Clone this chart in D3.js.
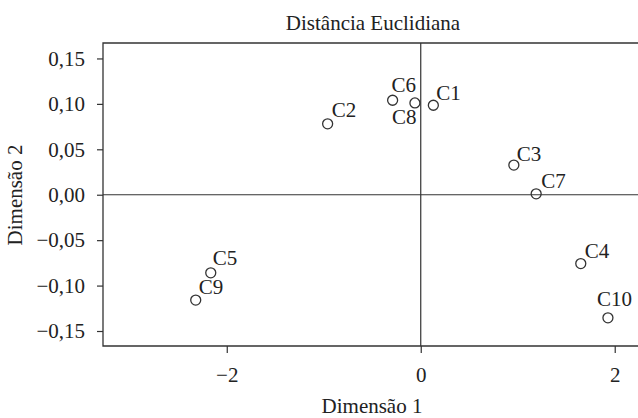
<!DOCTYPE html>
<html><head><meta charset="utf-8">
<script src="https://cdn.jsdelivr.net/npm/d3@7"></script>
<style>body{margin:0;background:#fff}svg{display:block}</style>
</head><body>
<svg id="c" width="638" height="418"></svg>
<script>
const labels = ["C1","C2","C3","C4","C5","C6","C7","C8","C9","C10"];
const dim1 = [0.13,-0.96,0.96,1.65,-2.165,-0.29,1.19,-0.06,-2.32,1.93];
const dim2 = [0.0985,0.078,0.0326,-0.0758,-0.086,0.104,0.001,0.101,-0.116,-0.1355];
const xTicks = [-2,0,2];
const yTicks = [-0.15,-0.10,-0.05,0,0.05,0.10,0.15];
const title = "Distância Euclidiana";
const xTitle = "Dimensão 1";
const yTitle = "Dimensão 2";
// label offsets (dx, dy of text baseline-start relative to point)
const labelOffsets = [[3,-5],[4,-7],[3,-4],[4,-6],[2,-8],[-1,-8],[5,-6],[-23,21],[3,-6],[-11,-12]];

const svg = d3.select("#c");
const L=103, T=43, B=346, R=638;
const x = d3.scaleLinear().domain([-3.276,2.24]).range([L,R]);
const y = d3.scaleLinear().domain([-0.1665,0.167]).range([B,T]);
const ink="#333", font="'Liberation Serif','Times New Roman',serif", fs="21px";
const fmt = d => d3.format(".2f")(d).replace(".",",").replace("-","\u2212");

// frame
svg.append("path").attr("d",`M${R+5},${T}H${L}V${B}H${R+5}`).attr("fill","none").attr("stroke",ink).attr("stroke-width",1.3);
// zero lines
svg.append("line").attr("x1",x(0)).attr("x2",x(0)).attr("y1",T).attr("y2",B).attr("stroke",ink).attr("stroke-width",1.2);
svg.append("line").attr("x1",L).attr("x2",R).attr("y1",y(0)).attr("y2",y(0)).attr("stroke",ink).attr("stroke-width",1.2);

const yAx = svg.append("g").attr("transform",`translate(${L},0)`)
  .call(d3.axisLeft(y).tickValues(yTicks).tickSize(6).tickPadding(12).tickFormat(fmt));
const xAx = svg.append("g").attr("transform",`translate(0,${B})`)
  .call(d3.axisBottom(x).tickValues(xTicks).tickSize(7).tickPadding(14).tickFormat(d=>String(d).replace("-","\u2212")));
[yAx,xAx].forEach(g=>{
  g.select(".domain").remove();
  g.selectAll(".tick line").attr("stroke",ink).attr("stroke-width",1.2);
  g.selectAll("text").attr("fill","#222").style("font-family",font).style("font-size",fs);
});

const pts = labels.map((l,i)=>({l,x:dim1[i],y:dim2[i],o:labelOffsets[i]}));
svg.append("g").selectAll("circle").data(pts).join("circle")
  .attr("cx",d=>x(d.x)).attr("cy",d=>y(d.y)).attr("r",5)
  .attr("fill","none").attr("stroke",ink).attr("stroke-width",1.3);
svg.append("g").selectAll("text").data(pts).join("text")
  .attr("x",d=>x(d.x)+d.o[0]).attr("y",d=>y(d.y)+d.o[1])
  .attr("fill","#222").style("font-family",font).style("font-size",fs).text(d=>d.l);

svg.append("text").attr("x",373).attr("y",29.5).attr("text-anchor","middle")
  .attr("fill","#222").style("font-family",font).style("font-size",fs).text(title);
svg.append("text").attr("x",372).attr("y",413).attr("text-anchor","middle")
  .attr("fill","#222").style("font-family",font).style("font-size",fs).text(xTitle);
svg.append("text").attr("transform",`translate(22,195) rotate(-90)`).attr("text-anchor","middle")
  .attr("fill","#222").style("font-family",font).style("font-size",fs).text(yTitle);
</script>
</body></html>
